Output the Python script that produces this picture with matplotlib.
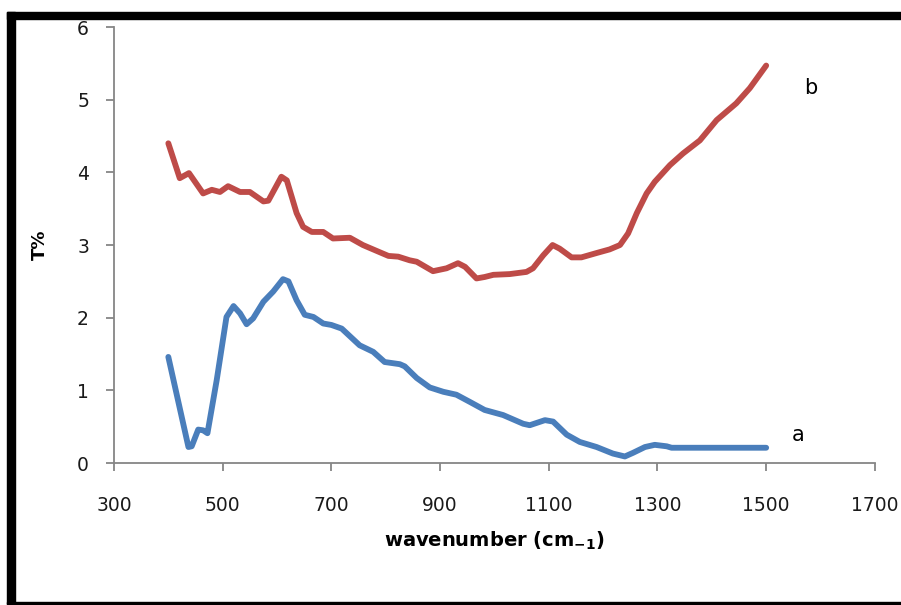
import matplotlib.pyplot as plt
from matplotlib.patches import Rectangle

# curve a (blue)
wn_a = [400, 437, 443, 455, 464, 472, 489, 507, 520, 532, 544, 556, 575, 593, 611, 621,
        636, 651, 667, 685, 700, 719, 752, 777, 798, 826, 835, 857, 881, 906, 930, 955,
        982, 1016, 1053, 1065, 1093, 1108, 1133, 1157, 1188, 1218, 1240, 1255, 1277,
        1295, 1317, 1326, 1500]
t_a = [1.46, 0.22, 0.23, 0.46, 0.45, 0.41, 1.14, 2.01, 2.16, 2.06, 1.91, 1.99, 2.22, 2.36,
       2.53, 2.50, 2.24, 2.04, 2.01, 1.92, 1.90, 1.85, 1.62, 1.53, 1.39, 1.36, 1.33, 1.17,
       1.04, 0.98, 0.94, 0.84, 0.73, 0.66, 0.54, 0.52, 0.59, 0.57, 0.39, 0.29, 0.22, 0.13,
       0.09, 0.14, 0.22, 0.25, 0.23, 0.21, 0.21]

# curve b (red)
wn_b = [400, 421, 438, 464, 480, 495, 510, 532, 550, 575, 584, 608, 618, 636, 648, 664,
        685, 703, 734, 758, 783, 805, 823, 844, 857, 887, 912, 933, 946, 967, 982, 998,
        1028, 1059, 1071, 1090, 1107, 1120, 1142, 1160, 1188, 1212, 1231, 1246, 1262,
        1274, 1280, 1295, 1323, 1347, 1378, 1409, 1445, 1470, 1500]
t_b = [4.40, 3.92, 3.99, 3.71, 3.76, 3.73, 3.81, 3.73, 3.73, 3.60, 3.61, 3.94, 3.89, 3.44,
       3.25, 3.18, 3.18, 3.09, 3.10, 3.00, 2.92, 2.85, 2.84, 2.79, 2.77, 2.64, 2.68, 2.75,
       2.70, 2.54, 2.56, 2.59, 2.60, 2.63, 2.68, 2.86, 3.00, 2.95, 2.83, 2.83, 2.89, 2.94,
       3.00, 3.16, 3.44, 3.62, 3.71, 3.87, 4.10, 4.26, 4.44, 4.72, 4.95, 5.16, 5.47]

xticks = [300, 500, 700, 900, 1100, 1300, 1500, 1700]
yticks = [0, 1, 2, 3, 4, 5, 6]

fig = plt.figure(figsize=(9.01, 6.05), dpi=100)
ax = fig.add_axes([0.1265, 0.2347, 0.8445, 0.7206])

ax.plot(wn_a, t_a, color='#4A7EBB', lw=4.2, solid_capstyle='round', solid_joinstyle='round')
ax.plot(wn_b, t_b, color='#BE4B48', lw=4.2, solid_capstyle='round', solid_joinstyle='round')

ax.text(1558, 0.39, 'a', fontsize=15, ha='center', va='center')
ax.text(1582, 5.16, 'b', fontsize=15, ha='center', va='center')

ax.set_xlim(300, 1700)
ax.set_ylim(0, 6)
ax.set_xticks(xticks)
ax.set_yticks(yticks)
for s in ['top', 'right']:
    ax.spines[s].set_visible(False)
for s in ['left', 'bottom']:
    ax.spines[s].set_color('#868686')
    ax.spines[s].set_linewidth(1.3)
ax.tick_params(axis='both', direction='out', length=6, width=1.3, color='#868686',
               labelsize=13.5, labelcolor='#1a1a1a')
ax.tick_params(axis='x', pad=18)
ax.tick_params(axis='y', pad=12)

ax.set_xlabel(r'wavenumber (cm$_{\mathregular{-1}}$)', fontsize=14, fontweight='bold', labelpad=10)
ax.set_ylabel('T%', fontsize=13, fontweight='bold', labelpad=20)

# black frame around the picture
fig.patches.append(Rectangle((0.0078, 0.0017), 0.0089, 0.9785, transform=fig.transFigure,
                             color='black', zorder=5))
fig.patches.append(Rectangle((0.0078, 0.9686), 0.9922, 0.0116, transform=fig.transFigure,
                             color='black', zorder=5))
fig.patches.append(Rectangle((0.0078, 0.0017), 0.9922, 0.0033, transform=fig.transFigure,
                             color='black', zorder=5))

fig.savefig('out.png', dpi=100)
